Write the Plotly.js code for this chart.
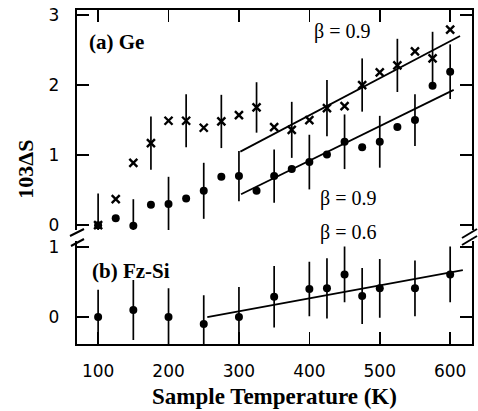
<!DOCTYPE html>
<html>
<head>
<meta charset="utf-8">
<script src="https://cdn.plot.ly/plotly-3.0.1.min.js"></script>
<style>html,body{margin:0;padding:0;background:#fff}#chart{width:478px;height:411px}</style>
</head>
<body>
<div id="chart"></div>
<script>
// ---- data ----
var geTemp = [100,125,150,175,200,225,250,275,300,325,350,375,400,425,450,475,500,525,550,575,600];
var geCross = [0.0,0.37,0.89,1.17,1.49,1.49,1.39,1.48,1.57,1.68,1.40,1.36,1.50,1.67,1.70,2.00,2.18,2.28,2.48,2.38,2.79];
var geCrossErr = [0,0,0,0.38,0,0.38,0,0.38,0,0.36,0,0.40,0,0.40,0,0.38,0,0.38,0,0.38,0];
var geDot = [0.0,0.10,-0.01,0.29,0.30,0.38,0.49,0.69,0.70,0.49,0.70,0.80,0.90,1.01,1.19,1.11,1.19,1.40,1.50,1.99,2.19];
var geDotErr = [0.45,0,0.38,0,0.39,0,0.40,0,0.36,0,0.38,0,0.39,0,0.39,0,0.37,0,0.37,0,0.39];
var geFitUpperT = [302,614];
var geFitUpperY = [1.05,2.70];
var geFitLowerT = [303,605];
var geFitLowerY = [0.44,1.93];
var siTemp = [100,150,200,250,300,350,400,425,450,475,500,550,600];
var siDot = [0.0,0.10,0.0,-0.10,0.0,0.29,0.40,0.41,0.61,0.30,0.41,0.41,0.61];
var siDotErr = [0.39,0.43,0.41,0.41,0.43,0.44,0.39,0.43,0.40,0.40,0.42,0.40,0.40];
var siFitT = [255,618];
var siFitY = [0.0,0.67];
var xTicks = [100,200,300,400,500,600];
var xTickText = ['100','200','300','400','500','600'];
var geYTicks = [0,1,2,3];
var siYTicks = [0,1];

var black = '#000';
var errStyle = function(arr){return {type:'data', array:arr, visible:true, color:black, thickness:1.7, width:0};};

var traces = [
  {x:geTemp, y:geCross, xaxis:'x2', yaxis:'y', mode:'markers', type:'scatter',
   marker:{symbol:'x-thin-open', size:8, color:black, line:{color:black, width:2.4}},
   error_y:errStyle(geCrossErr), hoverinfo:'skip'},
  {x:geTemp, y:geDot, xaxis:'x2', yaxis:'y', mode:'markers', type:'scatter',
   marker:{symbol:'circle', size:8, color:black},
   error_y:errStyle(geDotErr), hoverinfo:'skip'},
  {x:geFitUpperT, y:geFitUpperY, xaxis:'x2', yaxis:'y', mode:'lines', type:'scatter',
   line:{color:black, width:1.8}, hoverinfo:'skip'},
  {x:geFitLowerT, y:geFitLowerY, xaxis:'x2', yaxis:'y', mode:'lines', type:'scatter',
   line:{color:black, width:1.8}, hoverinfo:'skip'},
  {x:siTemp, y:siDot, xaxis:'x', yaxis:'y2', mode:'markers', type:'scatter',
   marker:{symbol:'circle', size:8, color:black},
   error_y:errStyle(siDotErr), hoverinfo:'skip'},
  {x:siFitT, y:siFitY, xaxis:'x', yaxis:'y2', mode:'lines', type:'scatter',
   line:{color:black, width:1.8}, hoverinfo:'skip'}
];

var tickFont = {family:'DejaVu Sans', size:17, color:black};
var serifBold = {family:'Liberation Serif', size:21, color:black, weight:'bold'};
var serif = {family:'Liberation Serif', size:20, color:black};

var commonAx = {showgrid:false, zeroline:false, showline:true, linecolor:black, linewidth:2.2,
  ticks:'inside', ticklen:12, tickwidth:1.5, tickcolor:black, tickfont:tickFont};

function merge(a,b){var o={};for(var k in a)o[k]=a[k];for(var k2 in b)o[k2]=b[k2];return o;}

var layout = {
  width:478, height:411,
  margin:{l:77, r:6, t:10, b:67},
  paper_bgcolor:'#fff', plot_bgcolor:'#fff',
  showlegend:false,
  xaxis: merge(commonAx, {domain:[0,1], range:[70,631], anchor:'y2', side:'bottom',
    tickmode:'array', tickvals:xTicks, ticktext:xTickText, ticklabelstandoff:10}),
  xaxis2: merge(commonAx, {domain:[0,1], range:[70,631], anchor:'y', side:'top', matches:'x',
    tickmode:'array', tickvals:xTicks, showticklabels:false}),
  yaxis: merge(commonAx, {domain:[0.341,1], range:[-0.071,3.071], anchor:'x2', mirror:'ticks',
    tickmode:'array', tickvals:geYTicks, ticklabelstandoff:12}),
  yaxis2: merge(commonAx, {domain:[0,0.308], range:[-0.386,1.086], anchor:'x', mirror:'ticks',
    tickmode:'array', tickvals:siYTicks, ticklabelstandoff:12}),
  annotations:[
    {text:'(a) Ge', xref:'paper', yref:'paper', x:0.025, y:0.905, xanchor:'left', yanchor:'middle', showarrow:false, font:serifBold},
    {text:'(b) Fz-Si', xref:'paper', yref:'paper', x:0.033, y:0.219, xanchor:'left', yanchor:'middle', showarrow:false, font:serifBold},
    {text:'β = 0.9', xref:'paper', yref:'paper', x:0.670, y:0.935, xanchor:'center', yanchor:'middle', showarrow:false, font:serif},
    {text:'β = 0.9', xref:'paper', yref:'paper', x:0.685, y:0.436, xanchor:'center', yanchor:'middle', showarrow:false, font:serif},
    {text:'β = 0.6', xref:'paper', yref:'paper', x:0.685, y:0.334, xanchor:'center', yanchor:'middle', showarrow:false, font:serif},
    {text:'103ΔS', xref:'paper', yref:'paper', x:-0.130, y:0.524, xanchor:'center', yanchor:'middle', textangle:-90, showarrow:false, font:{family:'Liberation Serif', size:22, color:black, weight:'bold'}},
    {text:'Sample Temperature (K)', xref:'paper', yref:'paper', x:0.5, y:-0.158, xanchor:'center', yanchor:'middle', showarrow:false, font:{family:'Liberation Serif', size:23, color:black, weight:'bold'}}
  ],
  shapes:[
    {type:'line', xref:'paper', yref:'paper', x0:(70-77)/395, y0:(344-236)/334, x1:(84-77)/395, y1:(344-229)/334, line:{color:black, width:2}},
    {type:'line', xref:'paper', yref:'paper', x0:(71-77)/395, y0:(344-246)/334, x1:(84-77)/395, y1:(344-239)/334, line:{color:black, width:2}},
    {type:'line', xref:'paper', yref:'paper', x0:(462-77)/395, y0:(344-238)/334, x1:(477-77)/395, y1:(344-229)/334, line:{color:black, width:2}},
    {type:'line', xref:'paper', yref:'paper', x0:(462-77)/395, y0:(344-245)/334, x1:(477-77)/395, y1:(344-236)/334, line:{color:black, width:2}}
  ]
};

Plotly.newPlot('chart', traces, layout, {displayModeBar:false, staticPlot:true});
</script>
</body>
</html>
